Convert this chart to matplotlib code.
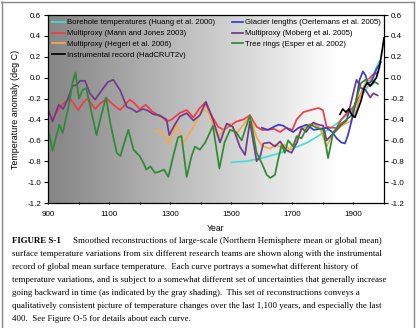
import numpy as np
import matplotlib.pyplot as plt
from matplotlib.lines import Line2D

plt.rcParams['font.family'] = ['Liberation Sans', 'DejaVu Sans']

#---DATA---
esper_years = [900, 915, 937, 948, 967, 980, 990, 1001, 1013, 1025, 1040, 1059, 1075, 1090,
               1105, 1125, 1137, 1150, 1163, 1180, 1200, 1213, 1222, 1235, 1250, 1265, 1280,
               1294, 1310, 1326, 1337, 1354, 1370, 1381, 1397, 1415, 1440, 1461, 1478, 1496,
               1515, 1534, 1561, 1583, 1600, 1616, 1628, 1643, 1653, 1665, 1675, 1686, 1703,
               1714, 1730, 1747, 1760, 1780, 1801, 1817, 1834, 1856, 1878, 1894, 1910, 1925,
               1940, 1955, 1970, 1980]
esper_vals = [-0.48, -0.70, -0.45, -0.53, -0.28, -0.05, 0.05, -0.20, -0.12, -0.10, -0.30, -0.55,
              -0.35, -0.19, -0.45, -0.72, -0.75, -0.62, -0.50, -0.69, -0.75, -0.82, -0.88, -0.85,
              -0.91, -0.90, -0.88, -0.95, -0.75, -0.57, -0.56, -0.95, -0.75, -0.66, -0.69, -0.62,
              -0.46, -0.87, -0.62, -0.50, -0.52, -0.60, -0.36, -0.72, -0.82, -0.93, -0.96, -0.93,
              -0.79, -0.64, -0.72, -0.60, -0.66, -0.56, -0.58, -0.48, -0.45, -0.48, -0.50, -0.77,
              -0.52, -0.45, -0.40, -0.36, -0.20, -0.05, -0.02, -0.08, -0.04, -0.06]

mann_years = [900, 915, 935, 950, 972, 985, 999, 1015, 1030, 1054, 1070, 1092, 1110, 1136, 1155,
              1168, 1185, 1200, 1220, 1240, 1260, 1275, 1289, 1305, 1330, 1354, 1376, 1397, 1414,
              1441, 1457, 1475, 1496, 1517, 1540, 1561, 1583, 1600, 1616, 1640, 1660, 1680, 1700,
              1714, 1736, 1760, 1785, 1800, 1812, 1830, 1845, 1860, 1878, 1900, 1920, 1940, 1960,
              1980]
mann_vals = [-0.33, -0.40, -0.30, -0.25, -0.20, -0.25, -0.31, -0.24, -0.20, -0.30, -0.25, -0.20,
             -0.25, -0.31, -0.25, -0.21, -0.25, -0.30, -0.26, -0.32, -0.36, -0.38, -0.42, -0.40,
             -0.34, -0.31, -0.38, -0.29, -0.24, -0.39, -0.47, -0.50, -0.46, -0.42, -0.40, -0.36,
             -0.47, -0.50, -0.50, -0.49, -0.52, -0.48, -0.50, -0.40, -0.33, -0.31, -0.29, -0.31,
             -0.47, -0.48, -0.48, -0.40, -0.34, -0.28, -0.18, -0.05, 0.02, 0.05]

moberg_years = [900, 915, 935, 950, 965, 980, 993, 1005, 1021, 1037, 1054, 1081, 1097, 1114,
                1136, 1158, 1175, 1190, 1210, 1223, 1245, 1265, 1288, 1297, 1315, 1332, 1354,
                1376, 1397, 1417, 1440, 1463, 1485, 1505, 1528, 1545, 1561, 1583, 1595, 1605,
                1625, 1643, 1660, 1678, 1697, 1715, 1730, 1745, 1768, 1785, 1801, 1812, 1825,
                1845, 1860, 1878, 1895, 1910, 1925, 1940, 1955, 1965, 1979]
moberg_vals = [-0.30, -0.42, -0.26, -0.30, -0.20, -0.08, -0.07, -0.03, -0.03, -0.15, -0.21,
               -0.10, -0.04, -0.02, -0.12, -0.28, -0.30, -0.33, -0.30, -0.31, -0.35, -0.36,
               -0.40, -0.55, -0.45, -0.37, -0.34, -0.41, -0.36, -0.23, -0.40, -0.62, -0.44,
               -0.47, -0.66, -0.74, -0.42, -0.80, -0.75, -0.63, -0.62, -0.66, -0.61, -0.69,
               -0.72, -0.62, -0.48, -0.52, -0.43, -0.45, -0.46, -0.60, -0.56, -0.50, -0.45,
               -0.41, -0.20, -0.02, -0.10, -0.12, -0.19, -0.15, -0.17]

hegerl_years = [1250, 1265, 1280, 1294, 1308, 1320, 1332, 1343, 1360, 1387, 1410, 1425, 1440,
                1457, 1475, 1496, 1518, 1540, 1561, 1583, 1599, 1627, 1645, 1659, 1675, 1692,
                1714, 1730, 1758, 1775, 1790, 1812, 1830, 1856, 1875, 1889, 1905, 1920, 1935,
                1945, 1960]
hegerl_vals = [-0.52, -0.50, -0.55, -0.64, -0.55, -0.45, -0.52, -0.63, -0.55, -0.41, -0.30,
               -0.33, -0.45, -0.57, -0.50, -0.44, -0.53, -0.45, -0.37, -0.57, -0.65, -0.68,
               -0.64, -0.66, -0.64, -0.69, -0.58, -0.50, -0.44, -0.45, -0.48, -0.66, -0.55,
               -0.47, -0.44, -0.42, -0.35, -0.20, -0.08, -0.02, -0.02]

glacier_years = [1600, 1620, 1640, 1655, 1670, 1690, 1703, 1720, 1747, 1770, 1790, 1812, 1830,
                 1845, 1860, 1872, 1882, 1895, 1910, 1920, 1931, 1940, 1948, 1960, 1975, 1990]
glacier_vals = [-0.48, -0.50, -0.47, -0.45, -0.46, -0.50, -0.52, -0.48, -0.45, -0.50, -0.49,
                -0.48, -0.52, -0.58, -0.62, -0.63, -0.55, -0.40, -0.20, -0.02, 0.06, 0.02,
                -0.06, -0.03, 0.08, 0.15]

borehole_years = [1500, 1550, 1600, 1650, 1700, 1750, 1800, 1850, 1900, 1950, 1985]
borehole_vals = [-0.81, -0.80, -0.77, -0.73, -0.68, -0.62, -0.53, -0.43, -0.30, -0.07, 0.16]

instr_years = [1856, 1865, 1875, 1885, 1895, 1905, 1915, 1925, 1935, 1945, 1955, 1965, 1975,
               1985, 1995, 2000]
instr_vals = [-0.35, -0.30, -0.33, -0.30, -0.36, -0.38, -0.30, -0.22, -0.10, -0.05, -0.08,
              -0.04, 0.00, 0.10, 0.28, 0.38]

xticks = [900, 1000, 1100, 1200, 1300, 1400, 1500, 1600, 1700, 1800, 1900, 2000]
xlabels = ["900", "", "1100", "", "1300", "", "1500", "", "1700", "", "1900", ""]
yticks = [-1.2, -1.0, -0.8, -0.6, -0.4, -0.2, 0.0, 0.2, 0.4, 0.6]

caption_lines = [
    "surface temperature variations from six different research teams are shown along with the instrumental",
    "record of global mean surface temperature.  Each curve portrays a somewhat different history of",
    "temperature variations, and is subject to a somewhat different set of uncertainties that generally increase",
    "going backward in time (as indicated by the gray shading).  This set of reconstructions conveys a",
    "qualitatively consistent picture of temperature changes over the last 1,100 years, and especially the last",
    "400.  See Figure O-5 for details about each curve.",
]

#---FIGURE---
W, H = 416, 328
fig = plt.figure(figsize=(W / 100, H / 100), dpi=100)
ax = fig.add_axes([48 / W, 1 - 203 / H, 336 / W, 188 / H])

# gray shading for uncertainty (dark in the past, fading out)
grad = np.linspace(0.52, 1.0, 256)[np.newaxis, :]
ax.imshow(grad, extent=[900, 1850, -1.2, 0.6], cmap="gray", vmin=0, vmax=1,
          aspect="auto", zorder=0, interpolation="bicubic")

lw = 1.25
l_bore, = ax.plot(borehole_years, borehole_vals, color="#45dcd8", lw=lw)
l_mann, = ax.plot(mann_years, mann_vals, color="#f03c46", lw=lw)
l_heg, = ax.plot(hegerl_years, hegerl_vals, color="#f8a84c", lw=lw)
l_glac, = ax.plot(glacier_years, glacier_vals, color="#3a3ad0", lw=lw)
l_mob, = ax.plot(moberg_years, moberg_vals, color="#703c88", lw=lw)
l_esp, = ax.plot(esper_years, esper_vals, color="#2e8a34", lw=lw)
l_ins, = ax.plot(instr_years, instr_vals, color="black", lw=lw)

ax.set_xlim(900, 2000)
ax.set_ylim(-1.2, 0.6)
ax.set_xticks(xticks)
ax.set_xticklabels(xlabels)
ax.set_yticks(yticks)
ax.set_yticklabels([f"{v:.1f}" for v in yticks])
ax.tick_params(axis="y", labelsize=5.8, length=3, width=0.8, right=True, labelright=True,
               pad=2)
ax.tick_params(axis="x", labelsize=5.8, length=2, width=0.8, direction="inout", pad=5)
for s in ax.spines.values():
    s.set_linewidth(0.9)

ax.set_xlabel("Year", fontsize=6.2, labelpad=4)
ax.set_ylabel("Temperature anomaly (deg C)", fontsize=6.4, labelpad=5)

# legends
leg_kw = dict(fontsize=5.55, frameon=False, borderpad=0, borderaxespad=0,
              labelspacing=0.45, handletextpad=0.3, bbox_transform=fig.transFigure)
leg1 = ax.legend([l_bore, l_mann, l_heg, l_ins],
                 ["Borehole temperatures (Huang et al. 2000)",
                  "Multiproxy (Mann and Jones 2003)",
                  "Multiproxy (Hegerl et al. 2006)",
                  "Instrumental record (HadCRUT2v)"],
                 loc="upper left", bbox_to_anchor=(52 / W, 1 - 19 / H),
                 handlelength=1.7, **leg_kw)
ax.add_artist(leg1)
ax.legend([l_glac, l_mob, l_esp],
          ["Glacier lengths (Oerlemans et al. 2005)",
           "Multiproxy (Moberg et al. 2005)",
           "Tree rings (Esper et al. 2002)"],
          loc="upper left", bbox_to_anchor=(232 / W, 1 - 19 / H),
          handlelength=1.45, **leg_kw)

# caption
cap_font = ["Liberation Serif", "DejaVu Serif"]
cap_size = 6.4
fig.text(12 / W, 1 - 241 / H, "FIGURE S-1", fontsize=cap_size, fontweight="bold",
         family=cap_font, va="center", ha="left")
fig.text(73 / W, 1 - 241 / H,
         "Smoothed reconstructions of large-scale (Northern Hemisphere mean or global mean)",
         fontsize=cap_size, family=cap_font, va="center", ha="left")
for i, line in enumerate(caption_lines):
    fig.text(12 / W, 1 - (254 + 13 * i) / H, line, fontsize=cap_size, family=cap_font,
             va="center", ha="left")

# page border
fig.add_artist(Line2D([1 / W, 414 / W], [1 - 2 / H, 1 - 2 / H], color="#888888", lw=1))
fig.add_artist(Line2D([1.5 / W, 1.5 / W], [0, 1 - 2 / H], color="#888888", lw=1))
fig.add_artist(Line2D([413.5 / W, 413.5 / W], [0, 1 - 2 / H], color="#888888", lw=1))

fig.savefig("out.png", dpi=100)
